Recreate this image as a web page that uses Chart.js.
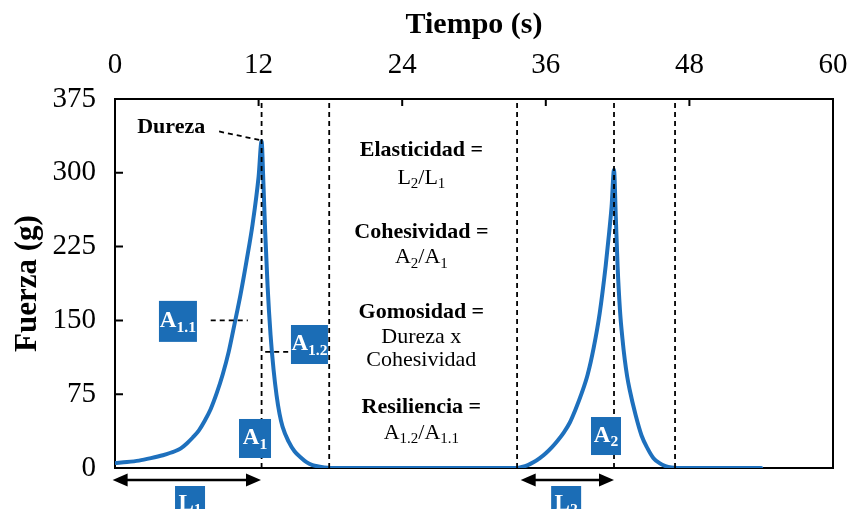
<!DOCTYPE html>
<html>
<head>
<meta charset="utf-8">
<script src="https://cdn.jsdelivr.net/npm/chart.js@4.4.0/dist/chart.umd.min.js"></script>
<style>
  body { margin: 0; background: #fff; }
  #wrap { width: 853px; height: 509px; }
</style>
</head>
<body>
<div id="wrap"><canvas id="tpa"></canvas></div>
<script>
// Perfil de textura: fuerza (g) frente a tiempo (s), dos compresiones
const tiempo = [0, 1, 2, 3, 4, 5, 5.5, 6, 6.5, 7, 7.5, 8, 8.5, 9, 9.5, 10, 10.5, 11, 11.5, 12, 12.25,
  12.4, 12.55, 12.75, 13, 13.25, 13.5, 13.75, 14, 14.5, 15, 15.5, 16, 16.5, 17, 17.5, 18, 25,
  33.6, 34, 34.5, 35, 35.5, 36, 36.5, 37, 37.5, 38, 38.5, 39, 39.5, 40, 40.5, 41, 41.3, 41.5, 41.7,
  41.85, 42, 42.2, 42.4, 42.6, 42.8, 43, 43.5, 44, 44.5, 45, 45.5, 46, 46.5, 47, 54];
const fuerza = [5, 6, 7.5, 10, 13, 17, 20, 25, 31, 38, 48, 60, 76, 95, 118, 147, 177, 211, 248, 296, 332,
  290, 240, 185, 135, 100, 74, 55, 42, 27, 17, 11, 6, 3, 1.5, 0.5, 0, 0,
  0, 1, 3, 6, 10, 15, 21, 28, 36, 46, 60, 76, 95, 122, 157, 205, 240, 266, 303,
  255, 205, 160, 132, 110, 93, 80, 54, 33, 20, 10, 5, 2, 0.5, 0, 0];
const xTicks = [0, 12, 24, 36, 48, 60];
const yTicks = [0, 75, 150, 225, 300, 375];
const cortes = [12.25, 17.9, 33.6, 41.7, 46.8]; // lineas discontinuas

const SERIF = '"Liberation Serif", "Times New Roman", serif';
const AZUL = '#1e70bd';
const CAJA = '#1b6db6';

let datasets = cortes.map(t => ({
  data: [{ x: t, y: 0 }, { x: t, y: 375 }],
  showLine: true, borderColor: '#000', borderWidth: 1.8, borderDash: [5, 4],
  pointRadius: 0
}));
datasets.push({
  data: tiempo.map((t, i) => ({ x: t, y: fuerza[i] })),
  showLine: true, borderColor: AZUL, borderWidth: 4, cubicInterpolationMode: 'monotone',
  pointRadius: 0, borderJoinStyle: 'round', borderCapStyle: 'round'
});

// texto con subindices: partes = [texto, esSub]
function rich(ctx, partes, cx, cy, size, bold, color) {
  const f = s => (bold ? 'bold ' : '') + s + 'px ' + SERIF;
  let w = 0;
  partes.forEach(p => { ctx.font = f(p[1] ? size * 0.68 : size); w += ctx.measureText(p[0]).width; });
  let x = cx - w / 2;
  ctx.textAlign = 'left';
  ctx.textBaseline = 'middle';
  ctx.fillStyle = color;
  partes.forEach(p => {
    const s = p[1] ? size * 0.68 : size;
    ctx.font = f(s);
    ctx.fillText(p[0], x, p[1] ? cy + size * 0.28 : cy);
    x += ctx.measureText(p[0]).width;
  });
}

function dashed(ctx, x1, y1, x2, y2) {
  ctx.save();
  ctx.strokeStyle = '#000';
  ctx.lineWidth = 1.8;
  ctx.setLineDash([5, 4]);
  ctx.beginPath();
  ctx.moveTo(x1, y1);
  ctx.lineTo(x2, y2);
  ctx.stroke();
  ctx.restore();
}

function flecha(ctx, xa, xb, y) {
  ctx.save();
  ctx.fillStyle = '#000';
  ctx.strokeStyle = '#000';
  ctx.lineWidth = 2.5;
  ctx.beginPath();
  ctx.moveTo(xa + 10, y);
  ctx.lineTo(xb - 10, y);
  ctx.stroke();
  [[xa, 1], [xb, -1]].forEach(([x, d]) => {
    ctx.beginPath();
    ctx.moveTo(x, y);
    ctx.lineTo(x + d * 15, y - 6.5);
    ctx.lineTo(x + d * 15, y + 6.5);
    ctx.closePath();
    ctx.fill();
  });
  ctx.restore();
}

function caja(ctx, cx, cy, w, h, partes) {
  ctx.fillStyle = CAJA;
  ctx.fillRect(cx - w / 2, cy - h / 2, w, h);
  rich(ctx, partes, cx, cy, 23, true, '#fff');
}

const marco = {
  id: 'marco',
  beforeDatasetsDraw(chart) {
    const { ctx, chartArea: a, scales: { x, y } } = chart;
    ctx.save();
    ctx.strokeStyle = '#000';
    ctx.lineWidth = 2;
    ctx.strokeRect(a.left, a.top, a.right - a.left, a.bottom - a.top);
    ctx.beginPath();
    xTicks.slice(1, -1).forEach(v => {
      const px = x.getPixelForValue(v);
      ctx.moveTo(px, a.top);
      ctx.lineTo(px, a.top + 7);
    });
    yTicks.slice(1, -1).forEach(v => {
      const py = y.getPixelForValue(v);
      ctx.moveTo(a.left, py);
      ctx.lineTo(a.left + 8, py);
    });
    ctx.stroke();
    ctx.restore();
  },
  afterDraw(chart) {
    const { ctx, chartArea: a, scales: { x, y } } = chart;
    const X = v => x.getPixelForValue(v), Y = v => y.getPixelForValue(v);
    ctx.save();
    // Dureza
    ctx.font = 'bold 22px ' + SERIF;
    ctx.fillStyle = '#000';
    ctx.textAlign = 'left';
    ctx.textBaseline = 'middle';
    ctx.fillText('Dureza', X(1.85), Y(346));
    dashed(ctx, X(8.7), Y(342), X(12.2), Y(333));
    dashed(ctx, X(8.0), Y(150), X(11.1), Y(150));
    dashed(ctx, X(12.55), Y(118), X(14.6), Y(118));

    caja(ctx, X(5.26), Y(149), 38, 41, [['A', 0], ['1.1', 1]]);
    caja(ctx, X(16.25), Y(125.5), 37, 39, [['A', 0], ['1.2', 1]]);
    caja(ctx, X(11.7), Y(30), 32, 39, [['A', 0], ['1', 1]]);
    caja(ctx, X(41.03), Y(32.5), 30, 38, [['A', 0], ['2', 1]]);

    // L1 y L2
    flecha(ctx, X(-0.2), X(12.2), a.bottom + 12);
    flecha(ctx, X(33.9), X(41.7), a.bottom + 12);
    caja(ctx, X(6.27), a.bottom + 36, 30, 36, [['L', 0], ['1', 1]]);
    caja(ctx, X(37.7), a.bottom + 36, 30, 36, [['L', 0], ['2', 1]]);

    // ecuaciones
    const cx = X(25.6);
    rich(ctx, [['Elasticidad =', 0]], cx, Y(323), 22, true, '#000');
    rich(ctx, [['L', 0], ['2', 1], ['/L', 0], ['1', 1]], cx, Y(295), 22, false, '#000');
    rich(ctx, [['Cohesividad =', 0]], cx, Y(240), 22, true, '#000');
    rich(ctx, [['A', 0], ['2', 1], ['/A', 0], ['1', 1]], cx, Y(214), 22, false, '#000');
    rich(ctx, [['Gomosidad =', 0]], cx, Y(158.5), 22, true, '#000');
    rich(ctx, [['Dureza x', 0]], cx, Y(133), 22, false, '#000');
    rich(ctx, [['Cohesividad', 0]], cx, Y(110), 22, false, '#000');
    rich(ctx, [['Resiliencia =', 0]], cx, Y(62), 22, true, '#000');
    rich(ctx, [['A', 0], ['1.2', 1], ['/A', 0], ['1.1', 1]], cx, Y(35.5), 22, false, '#000');
    ctx.restore();
  }
};

new Chart(document.getElementById('tpa'), {
  type: 'scatter',
  data: { datasets: datasets },
  options: {
    responsive: true,
    maintainAspectRatio: false,
    animation: false,
    layout: { padding: { right: 20, bottom: 41, left: 0, top: 0 } },
    plugins: { legend: { display: false }, tooltip: { enabled: false } },
    scales: {
      x: {
        type: 'linear', position: 'top', min: 0, max: 60,
        afterBuildTicks: s => { s.ticks = xTicks.map(v => ({ value: v })); },
        afterFit: s => { s.height = 99; s.paddingLeft = 0; s.paddingRight = 0; },
        grid: { display: false, drawTicks: false },
        border: { display: false },
        ticks: { font: { family: SERIF, size: 29 }, color: '#000', padding: 16, maxRotation: 0 },
        title: {
          display: true, text: 'Tiempo (s)', color: '#000',
          font: { family: SERIF, size: 30, weight: 'bold' }, padding: { top: 7, bottom: 0 }
        }
      },
      y: {
        min: 0, max: 375,
        afterBuildTicks: s => { s.ticks = yTicks.map(v => ({ value: v })); },
        afterFit: s => { s.width = 115; s.paddingTop = 0; s.paddingBottom = 0; },
        grid: { display: false, drawTicks: false },
        border: { display: false },
        ticks: { font: { family: SERIF, size: 29 }, color: '#000', padding: 19 },
        title: {
          display: true, text: 'Fuerza (g)', color: '#000',
          font: { family: SERIF, size: 31, weight: 'bold' }, padding: { top: 9, bottom: 0 }
        }
      }
    }
  },
  plugins: [marco]
});
</script>
</body>
</html>
